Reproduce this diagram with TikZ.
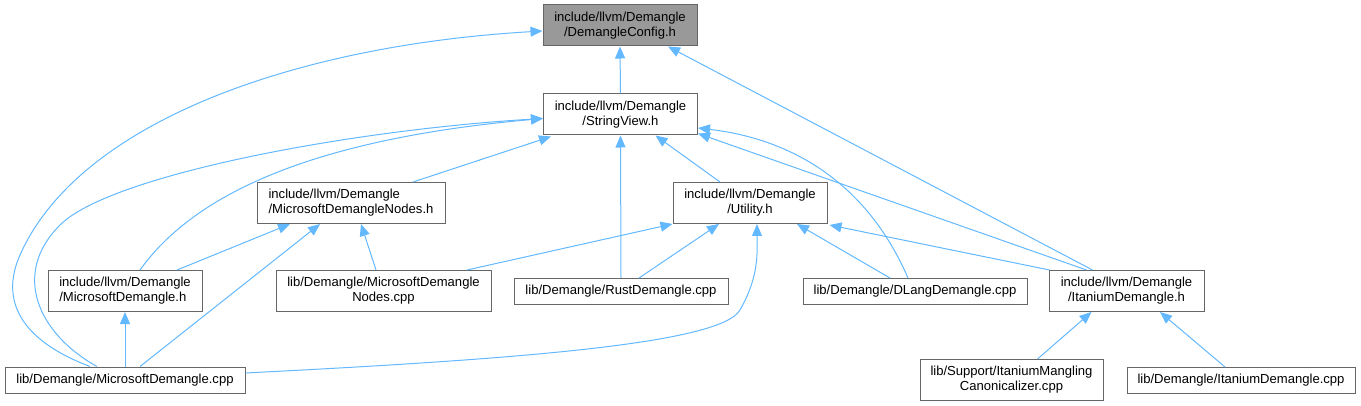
\documentclass[tikz,border=0pt]{standalone}
\usepackage{fontspec}
\setmainfont{Liberation Sans}
\usetikzlibrary{arrows.meta,calc}
\definecolor{deplink}{HTML}{63B8FF}
\definecolor{boxline}{HTML}{666666}
\definecolor{rootfill}{HTML}{999999}

\begin{document}
\begin{tikzpicture}[x=0.75pt,y=-0.75pt,
  box/.style={draw=boxline,fill=white,line width=0.75pt,inner sep=0pt,align=center,
    font=\fontsize{9.8}{11.3}\selectfont},
  two/.style={minimum height=30.75pt},
  one/.style={minimum height=19.5pt},
  dep/.style={draw=deplink,line width=0.75pt,-{Triangle[length=9pt,width=7.5pt]}}]
\useasboundingbox (0,0) rectangle (1361,406);
% files
\node [box,two,fill=rootfill,minimum width=115.5pt] (cfg) at (620,25.5) {include/llvm/Demangle\\/DemangleConfig.h};
\node [box,two,minimum width=115.5pt] (sv) at (620.5,114.5) {include/llvm/Demangle\\/StringView.h};
\node [box,two,align=left,minimum width=141pt] (msnh) at (351,203) {include/llvm/Demangle\\/MicrosoftDemangleNodes.h};
\node [box,two,minimum width=115.5pt] (util) at (750,203) {include/llvm/Demangle\\/Utility.h};
\node [box,two,align=left,minimum width=115.5pt] (msh) at (125,291) {include/llvm/Demangle\\/MicrosoftDemangle.h};
\node [box,two,minimum width=161.25pt] (msncpp) at (383.5,291) {lib/Demangle/MicrosoftDemangle\\Nodes.cpp};
\node [box,one,minimum width=160.5pt] (rust) at (621,291.5) {lib/Demangle/RustDemangle.cpp};
\node [box,one,minimum width=168pt] (dlang) at (915,291.5) {lib/Demangle/DLangDemangle.cpp};
\node [box,two,minimum width=116.25pt] (itan) at (1126.5,291) {include/llvm/Demangle\\/ItaniumDemangle.h};
\node [box,one,minimum width=180pt] (mscpp) at (125,380) {lib/Demangle/MicrosoftDemangle.cpp};
\node [box,two,minimum width=137.25pt] (canon) at (1011.5,380) {lib/Support/ItaniumMangling\\Canonicalizer.cpp};
\node [box,one,minimum width=171pt] (itcpp) at (1241,380.5) {lib/Demangle/ItaniumDemangle.cpp};
% includes of DemangleConfig.h
\draw [dep] (sv.north) -- (cfg.south);
\draw [dep] ($(itan.north)+(-34,0)$) -- ($(cfg.south)+(48,0)$);
\draw [dep] ($(mscpp.north)+(-35,0)$) .. controls (20,340) and (0,300) .. (20,255)
  .. controls (80,120) and (300,45) .. ($(cfg.west)+(0,5.5)$);
% includes of StringView.h
\draw [dep] ($(msnh.north)+(62,0)$) -- ($(sv.south west)+(8,1)$);
\draw [dep] ($(util.north)+(-30,0)$) -- ($(sv.south)+(35,0)$);
\draw [dep] (rust.north) -- (sv.south);
\draw [dep] ($(dlang.north)+(-7,0)$) .. controls (870,190) and (800,140) .. ($(sv.east)+(0,13.5)$);
\draw [dep] ($(itan.north)+(-40,0)$) -- ($(sv.east)+(0,19)$);
\draw [dep] ($(msh.north)+(15,0)$) .. controls (190,200) and (300,140) .. ($(sv.west)+(0,4)$);
\draw [dep] ($(mscpp.north)+(-28,0)$) .. controls (40,335) and (10,275) .. (60,225)
  .. controls (110,175) and (350,130) .. ($(sv.west)+(0,4)$);
% includes of Utility.h
\draw [dep] ($(msncpp.north)+(83.5,0)$) -- (util.south west);
\draw [dep] ($(rust.north)+(18,0)$) -- ($(util.south)+(-31,0)$);
\draw [dep] ($(dlang.north)+(-25,0)$) -- ($(util.south)+(47,0)$);
\draw [dep] ($(itan.north west)+(1,0)$) -- ($(util.south east)+(2,1)$);
\draw [dep] ($(mscpp.east)+(0,-7)$) .. controls (500,360) and (720,345) .. (740,310)
  .. controls (760,275) and (757,250) .. ($(util.south)+(7,0)$);
% includes of MicrosoftDemangleNodes.h
\draw [dep] ($(msh.north)+(52,0)$) -- ($(msnh.south)+(-61,0)$);
\draw [dep] ($(mscpp.north)+(15,0)$) -- ($(msnh.south)+(-31,0)$);
\draw [dep] ($(msncpp.north)+(-7.5,0)$) -- ($(msnh.south)+(10,0)$);
% includes of MicrosoftDemangle.h
\draw [dep] (mscpp.north) -- (msh.south);
% includes of ItaniumDemangle.h
\draw [dep] ($(canon.north)+(26,0)$) -- ($(itan.south)+(-35,0)$);
\draw [dep] ($(itcpp.north)+(-16,0)$) -- ($(itan.south)+(33.5,0)$);
\end{tikzpicture}
\end{document}
